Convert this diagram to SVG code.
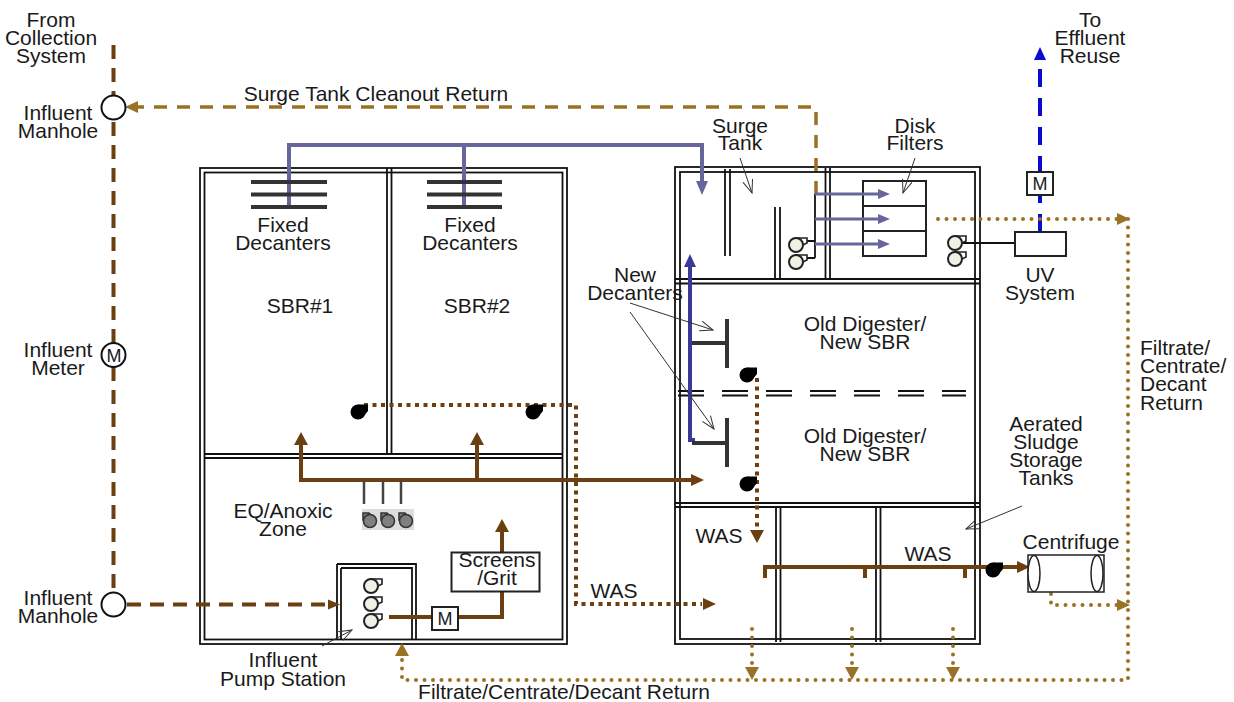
<svg xmlns="http://www.w3.org/2000/svg" width="1234" height="702" viewBox="0 0 1234 702">
<style>
text{font-family:"Liberation Sans",Arial,sans-serif;font-size:21px;fill:#1a1a1a;text-anchor:middle}
text.l{text-anchor:start}
text.m{font-size:18px}
.w{fill:none;stroke:#111;stroke-width:1.8}
.thin{fill:none;stroke:#111;stroke-width:1.8}
.lead{fill:none;stroke:#333;stroke-width:1}
.dec{fill:none;stroke:#333;stroke-width:4}
.box{fill:#fff;stroke:#222;stroke-width:2}
.stub{fill:none;stroke:#444;stroke-width:2.5}
.br{fill:none;stroke:#6b3f10;stroke-width:4}
.brd{fill:none;stroke:#6b3f10;stroke-width:4;stroke-dasharray:14 9}
.brdot{fill:none;stroke:#6b3f10;stroke-width:4;stroke-dasharray:4 4.5}
.tand{fill:none;stroke:#9a7226;stroke-width:3.5;stroke-dasharray:13 10}
.tandot{fill:none;stroke:#9a7226;stroke-width:4;stroke-linecap:round;stroke-dasharray:0 8.5}
.pur{fill:none;stroke:#66669c;stroke-width:4}
.pur2{fill:none;stroke:#66669c;stroke-width:3}
.ind{fill:none;stroke:#3a3a96;stroke-width:4}
.blu{fill:none;stroke:#0a0ad0;stroke-width:4;stroke-dasharray:18 11}
.afb{fill:#6b3f10}.aft{fill:#9a7226}.afp{fill:#66669c}.afi{fill:#3a3a96}.afbl{fill:#0a0ad0}
</style>
<defs>
<marker id="op" viewBox="0 0 14 12" refX="13" refY="6" markerWidth="14" markerHeight="12" markerUnits="userSpaceOnUse" orient="auto"><path d="M0 1L13 6L0 11" fill="none" stroke="#333" stroke-width="1"/></marker>
<g id="pump"><path d="M0-7H11V-2L5 1Z" fill="#fff" stroke="#222" stroke-width="1.6"/><circle r="7" fill="#f0f0e4" stroke="#222" stroke-width="2"/></g>
<g id="blow"><path d="M0-7.500H10V-1L5 5Z" fill="#000"/><circle r="7.500" fill="#000"/></g>
<g id="grey"><path d="M-7-1V-8H-1L4-2Z" fill="#808080" stroke="#333" stroke-width="1.5"/><circle r="6.500" fill="#808080" stroke="#333" stroke-width="1.5"/></g>
</defs>

<g id="building-sbr">
<rect class="w" x="200" y="168" width="367" height="476"/>
<rect class="w" x="204.500" y="172.500" width="358" height="467"/>
<path class="w" d="M387 168V455M391.500 168V455M204 454H563M204 458H563"/>
<path class="w" d="M337 564H416V640M337 640V564M341 568H412V640M341 568V640"/>
</g>
<g id="building-right">
<rect class="w" x="675" y="167" width="305" height="477"/>
<rect class="w" x="680" y="172" width="295" height="467"/>
<path class="w" d="M675 279H980M675 283.500H980M825.500 168V280M830 168V280M725 169V256M730 169V256M775 207V280M780 207V280"/>
<path class="w" d="M675 503H980M675 507H980M776 506V642M780.500 506V642M876 506V642M880.500 506V642"/>
<path class="w" stroke-dasharray="26 18" d="M678 391H966M678 395.500H966"/>
</g>
<g id="disk-filters"><rect class="box" x="863" y="181" width="63" height="75"/><path class="box" d="M863 206H926M863 231H926"/><text x="915" y="133">Disk</text><text x="915" y="150">Filters</text></g>

<g id="connectors">
<path class="brd" d="M113.500 45V96M113.500 122V345M113.500 367V592M127 604.500H328"/>
<path class="tand" d="M816 194V107H134"/>
<path class="pur" d="M289 206V145H702V185M464 145V206"/>
<path class="ind" d="M690 265V440H695"/>
<path class="blu" d="M1040 232V60"/>
<path class="thin" d="M815 194V258M806 241H815M806 258H815M963 243H1015"/>
<path class="pur2" d="M815 194H880M815 219H880M815 244H880"/>
<path class="tandot" d="M938 219H1118M1128 219V680H402V655M1051 594V605H1118M752 629V664M852 629V664M953 629V664"/>
<path class="br" d="M301 445V480H692M477 445V480"/>
<path class="br" d="M389 617H502V530"/>
<path class="stub" d="M364 480V504M383 480V504M401 480V504"/>
<path class="brdot" d="M364 405H576V604H702M757 378V529"/>
<path class="br" d="M765 578V567H1018M865 567V578M965 567V578"/>
<path class="afb" d="M301 432l-7 13h14zM477 432l-7 13h14zM502 519l-7 13h14zM704 480l-13-6v12zM716 604l-13-6v12zM757 543l-7-13h14zM1030 567l-13-6v12zM340 604.500l-12-5v10z"/>
<path class="aft" d="M125 107l13-6v12zM1130 219l-13-6v12zM1130 605l-13-6v12zM402 643l-7 13h14zM752 680l-7-13h14zM852 680l-7-13h14zM953 680l-7-13h14z"/>
<path class="afp" d="M702 195l-6-14h12zM890 194l-12-5v10zM890 219l-12-5v10zM890 244l-12-5v10z"/>
<path class="afi" d="M690 254l-6 13h12z"/>
<path class="afbl" d="M1040 47l-6 13h12z"/>
</g>

<g id="leaders">
<path class="lead" marker-end="url(#op)" d="M740 158L752 193"/>
<path class="lead" marker-end="url(#op)" d="M915 158L903 193"/>
<path class="lead" marker-end="url(#op)" d="M630 303L713 330"/>
<path class="lead" marker-end="url(#op)" d="M630 312L714 429"/>
<path class="lead" marker-end="url(#op)" d="M1022 506L966 529"/>
<path class="lead" marker-end="url(#op)" d="M322 646L352 630"/>
</g>

<g id="influent-manhole-top"><circle cx="113.500" cy="107.500" r="12" fill="#fff" stroke="#111" stroke-width="2"/><text x="58" y="120">Influent</text><text x="58" y="138">Manhole</text></g>
<g id="influent-manhole-bottom"><circle cx="113.500" cy="604.500" r="12" fill="#fff" stroke="#111" stroke-width="2"/><text x="58" y="605">Influent</text><text x="58" y="623">Manhole</text></g>
<g id="influent-meter"><circle cx="113.500" cy="355" r="12" fill="#fff" stroke="#111" stroke-width="2"/><text class="m" x="114" y="362">M</text><text x="58" y="357">Influent</text><text x="58" y="375">Meter</text></g>
<g id="from-collection"><text x="51" y="27">From</text><text x="51" y="45">Collection</text><text x="51" y="63">System</text></g>
<g id="to-effluent"><text x="1090" y="27">To</text><text x="1090" y="45">Effluent</text><text x="1090" y="63">Reuse</text></g>
<text x="376" y="101">Surge Tank Cleanout Return</text>

<g id="decanter-1"><path class="dec" d="M251 182H327M251 194.500H327M251 207H327"/><text x="283" y="232">Fixed</text><text x="283" y="250">Decanters</text></g>
<g id="decanter-2"><path class="dec" d="M427 182H502M427 194.500H502M427 207H502"/><text x="470" y="232">Fixed</text><text x="470" y="250">Decanters</text></g>
<text x="300" y="313">SBR#1</text>
<text x="477" y="313">SBR#2</text>
<g id="sbr-pumps"><use href="#blow" x="358" y="412"/><use href="#blow" x="533" y="412"/></g>
<g id="eq-zone"><text x="283" y="518">EQ/Anoxic</text><text x="283" y="536">Zone</text>
<rect x="362" y="509" width="52" height="21" fill="#ddd"/><use href="#grey" x="370" y="521"/><use href="#grey" x="388" y="521"/><use href="#grey" x="406" y="521"/></g>
<g id="influent-pump-station"><use href="#pump" x="371" y="586"/><use href="#pump" x="371" y="604"/><use href="#pump" x="371" y="621"/><text x="283" y="667">Influent</text><text x="283" y="686">Pump Station</text></g>
<g id="meter-1"><rect class="box" x="432" y="607" width="26" height="23"/><text class="m" x="445" y="625">M</text></g>
<g id="screens"><rect class="box" x="451.500" y="552.500" width="88" height="39"/><text x="497" y="567">Screens</text><text x="497" y="585">/Grit</text></g>
<text x="614" y="598">WAS</text>
<g id="new-decanters"><text x="635" y="282">New</text><text x="635" y="300">Decanters</text>
<path class="dec" d="M727 319V368M692 343H727M727 418V467M692 443H727"/></g>
<g id="surge-tank"><text x="740" y="133">Surge</text><text x="740" y="150">Tank</text></g>
<g id="surge-pumps"><use href="#pump" x="796" y="245"/><use href="#pump" x="796" y="262"/></g>
<g id="uv-pumps"><use href="#pump" x="955" y="243"/><use href="#pump" x="955" y="259"/></g>
<g id="uv-system"><rect class="box" x="1015" y="232" width="51" height="24"/><text x="1040" y="282">UV</text><text x="1040" y="300">System</text></g>
<g id="meter-2"><rect class="box" x="1027" y="172" width="26" height="23"/><text class="m" x="1040" y="190">M</text></g>
<g id="filtrate-return"><text class="l" x="1140" y="355">Filtrate/</text><text class="l" x="1140" y="373">Centrate/</text><text class="l" x="1140" y="391">Decant</text><text class="l" x="1140" y="410">Return</text></g>
<g id="digester-1"><text x="865" y="331">Old Digester/</text><text x="865" y="349">New SBR</text></g>
<g id="digester-2"><text x="865" y="443">Old Digester/</text><text x="865" y="461">New SBR</text></g>
<g id="digester-pumps"><use href="#blow" x="747" y="375"/><use href="#blow" x="747" y="484"/></g>
<g id="sludge-tanks"><text x="1046" y="431">Aerated</text><text x="1046" y="449">Sludge</text><text x="1046" y="467">Storage</text><text x="1046" y="485">Tanks</text></g>
<text x="719" y="543">WAS</text>
<text x="928" y="561">WAS</text>
<use href="#blow" x="993" y="570"/>
<g id="centrifuge"><rect class="box" style="stroke-width:1.500" x="1028" y="555" width="76" height="37"/><ellipse cx="1034" cy="573.500" rx="6" ry="18" fill="#fff" stroke="#222" stroke-width="1.500"/><ellipse cx="1097" cy="573.500" rx="6" ry="18" fill="#fff" stroke="#222" stroke-width="1.500"/><text x="1071" y="549">Centrifuge</text></g>
<text x="564" y="699">Filtrate/Centrate/Decant Return</text>
</svg>
